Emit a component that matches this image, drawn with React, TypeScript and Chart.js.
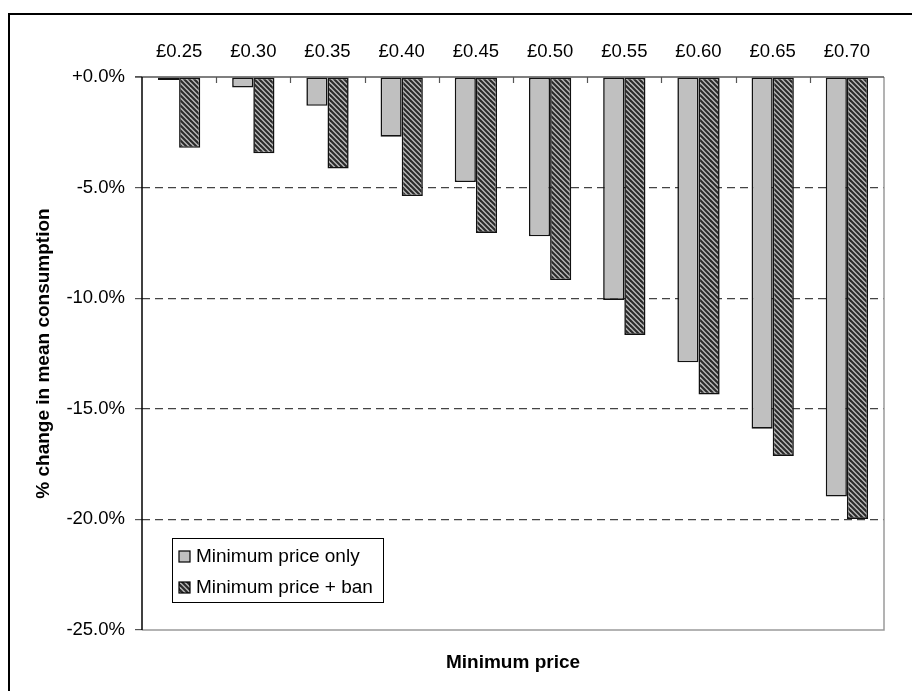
import React, { useEffect, useRef } from "react";
import { Chart, registerables } from "chart.js";

Chart.register(...registerables);

// Minimum unit price categories (top axis)
const priceLabels = ["£0.25", "£0.30", "£0.35", "£0.40", "£0.45", "£0.50", "£0.55", "£0.60", "£0.65", "£0.70"];

// % change in mean consumption
const minPriceOnly = [-0.13, -0.47, -1.3, -2.7, -4.75, -7.2, -10.08, -12.9, -15.9, -18.97];
const minPricePlusBan = [-3.2, -3.45, -4.14, -5.38, -7.05, -9.18, -11.66, -14.35, -17.13, -19.98];

const seriesNames = ["Minimum price only", "Minimum price + ban"];
const yTickValues = [0, -5, -10, -15, -20, -25];
const xTitle = "Minimum price";
const yTitle = "% change in mean consumption";

const FONT = "'Liberation Sans', Arial, sans-serif";

function makeHatch(ctx: CanvasRenderingContext2D): CanvasPattern | string {
  const s = 10;
  const c = document.createElement("canvas");
  c.width = s;
  c.height = s;
  const g = c.getContext("2d");
  if (!g) return "#777";
  g.fillStyle = "#b8b8b8";
  g.fillRect(0, 0, s, s);
  g.strokeStyle = "#2a2a2a";
  g.lineWidth = 2.1;
  // down-right diagonal stripes, two per tile
  for (let k = -2; k <= 2; k++) {
    const off = k * (s / 2);
    g.beginPath();
    g.moveTo(off - 1, -1);
    g.lineTo(off + s + 1, s + 1);
    g.stroke();
  }
  return ctx.createPattern(c, "repeat") || "#777";
}

const fmtPct = (v: number) => (v === 0 ? "+0.0%" : v.toFixed(1) + "%");

export default function App() {
  const canvasRef = useRef<HTMLCanvasElement | null>(null);

  useEffect(() => {
    const canvas = canvasRef.current;
    if (!canvas) return;
    const ctx = canvas.getContext("2d");
    if (!ctx) return;
    const hatch = makeHatch(ctx);

    const decorations = {
      id: "decorations",
      beforeDatasetsDraw(chart: any) {
        const { ctx: c, chartArea: a } = chart;
        c.save();
        // category boundary ticks hanging from the zero line
        c.strokeStyle = "#555";
        c.lineWidth = 1.2;
        const n = priceLabels.length;
        const w = (a.right - a.left) / n;
        for (let i = 1; i < n; i++) {
          const px = Math.round(a.left + i * w) + 0.5;
          c.beginPath();
          c.moveTo(px, a.top);
          c.lineTo(px, a.top + 6);
          c.stroke();
        }
        c.restore();
      },
      afterDraw(chart: any) {
        const { ctx: c, chartArea: a } = chart;
        c.save();
        // plot frame: right and bottom in gray
        c.strokeStyle = "#9a9a9a";
        c.lineWidth = 1.5;
        c.beginPath();
        c.moveTo(a.left, a.bottom);
        c.lineTo(a.right, a.bottom);
        c.lineTo(a.right, a.top);
        c.stroke();
        // zero line on top
        c.strokeStyle = "#555";
        c.lineWidth = 1.5;
        c.beginPath();
        c.moveTo(a.left - 7, a.top);
        c.lineTo(a.right, a.top);
        c.stroke();
        // left axis
        c.strokeStyle = "#000";
        c.lineWidth = 1.5;
        c.beginPath();
        c.moveTo(a.left, a.top);
        c.lineTo(a.left, a.bottom);
        c.stroke();

        // outer frame
        c.strokeStyle = "#000";
        c.lineWidth = 2;
        c.beginPath();
        c.moveTo(9, 700);
        c.lineTo(9, 14);
        c.lineTo(920, 14);
        c.stroke();

        // axis titles
        c.fillStyle = "#000";
        c.font = `bold 19px ${FONT}`;
        c.textAlign = "center";
        c.textBaseline = "middle";
        c.fillText(xTitle, (a.left + a.right) / 2, 663);
        c.translate(44, (a.top + a.bottom) / 2);
        c.rotate(-Math.PI / 2);
        c.fillText(yTitle, 0, 0);
        c.restore();

        // legend box
        c.save();
        const lx = 172, ly = 538, lw = 211, lh = 64;
        c.fillStyle = "#fff";
        c.fillRect(lx, ly, lw, lh);
        c.strokeStyle = "#000";
        c.lineWidth = 1;
        c.strokeRect(lx + 0.5, ly + 0.5, lw, lh);
        const fills = [chart.data.datasets[0].backgroundColor, chart.data.datasets[1].backgroundColor];
        c.font = `19px ${FONT}`;
        c.textAlign = "left";
        c.textBaseline = "middle";
        for (let i = 0; i < 2; i++) {
          const cy = 556 + i * 31;
          c.fillStyle = fills[i];
          c.fillRect(179, cy - 5, 11, 11);
          c.strokeStyle = "#000";
          c.lineWidth = 1.2;
          c.strokeRect(179, cy - 5, 11, 11);
          c.fillStyle = "#000";
          c.fillText(chart.data.datasets[i].label, 196, cy + 1);
        }
        c.restore();
      },
    };

    const chart = new Chart(canvas, {
      type: "bar",
      data: {
        labels: priceLabels,
        datasets: [
          {
            label: seriesNames[0],
            data: minPriceOnly,
            backgroundColor: "#c0c0c0",
            borderColor: "#111",
            borderWidth: 1.6,
            borderSkipped: false,
            categoryPercentage: 0.57,
            barPercentage: 1,
          },
          {
            label: seriesNames[1],
            data: minPricePlusBan,
            backgroundColor: hatch as any,
            borderColor: "#111",
            borderWidth: 1.6,
            borderSkipped: false,
            categoryPercentage: 0.57,
            barPercentage: 1,
          },
        ],
      },
      options: {
        responsive: false,
        animation: false,
        layout: { padding: { left: 0, top: 0, right: 28, bottom: 61 } },
        plugins: {
          legend: { display: false },
          tooltip: { enabled: false },
        },
        scales: {
          x: {
            position: "top",
            grid: { display: false, drawTicks: false },
            border: { display: false },
            ticks: {
              color: "#000",
              font: { family: FONT, size: 18.5 },
              padding: 14,
              maxRotation: 0,
            },
            afterFit(scale: any) {
              scale.height = 77;
            },
          },
          y: {
            min: -25,
            max: 0,
            afterBuildTicks(scale: any) {
              scale.ticks = yTickValues.map((v) => ({ value: v }));
            },
            grid: {
              color: (c: any) =>
                c.tick && (c.tick.value === 0 || c.tick.value === -25) ? "rgba(0,0,0,0)" : "#444",
              lineWidth: 1.2,
              tickColor: "#555",
              tickLength: 7,
              tickBorderDash: [],
            },
            border: { display: false, dash: [8, 5] },
            ticks: {
              color: "#000",
              font: { family: FONT, size: 18.5 },
              padding: 10,
              callback: (v: any) => fmtPct(Number(v)),
            },
            afterFit(scale: any) {
              scale.width = 142;
            },
          },
        },
      },
      plugins: [decorations],
    });

    return () => chart.destroy();
  }, []);

  return (
    <div style={{ position: "absolute", left: 0, top: 0, width: 912, height: 691, background: "#fff" }}>
      <canvas ref={canvasRef} width={912} height={691} style={{ display: "block" }} />
    </div>
  );
}
